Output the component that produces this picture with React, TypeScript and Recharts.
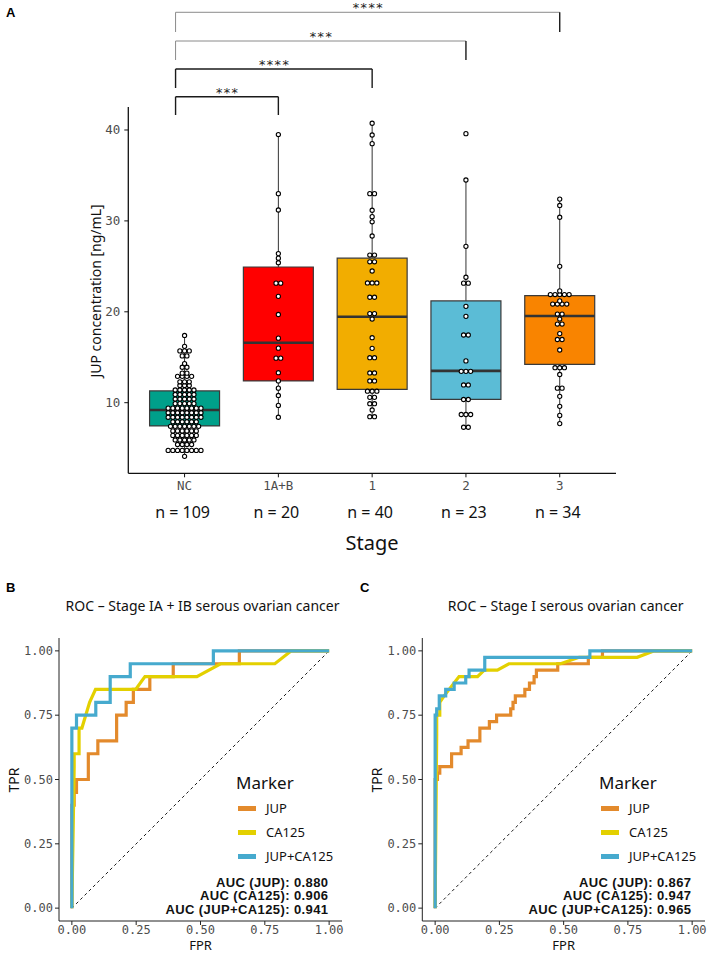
import React from "react";
import {
  ComposedChart,
  LineChart,
  Line,
  Scatter,
  XAxis,
  YAxis,
  ReferenceArea,
  ReferenceLine,
  Legend,
} from "recharts";

const SANS = "'Noto Sans', 'Open Sans', sans-serif";
const MONO = "'DejaVu Sans Mono', monospace";
const BOLD = "'Liberation Sans', Arial, sans-serif";

// ---- panel A: JUP concentration by stage ----
const stages = ["NC", "1A+B", "1", "2", "3"];
const stageN = [109, 20, 40, 23, 34];
const stageColors = ["#00A08A", "#FF0000", "#F2AD00", "#5BBCD6", "#F98400"];
const boxQ1 = [7.44, 12.39, 11.47, 10.37, 14.22];
const boxMedian = [9.2, 16.6, 19.46, 13.5, 19.54];
const boxQ3 = [11.3, 24.93, 25.9, 21.2, 21.77];
const whiskerLow = [4.1, 8.4, 8.46, 7.2, 7.7];
const whiskerHigh = [17.4, 39.5, 40.74, 34.5, 32.4];

const ncValues = [
  17.4, 16.2, 15.9, 15.6, 15.5, 15.3, 15.0, 14.3, 14.0, 13.8,
  13.3, 13.2, 13.1, 13.0, 12.9, 12.7, 12.4, 12.3, 12.2, 12.1,
  12.0, 11.7, 11.6, 11.5, 11.4, 11.3, 11.2, 11.1, 11.0, 10.9,
  10.8, 10.7, 10.6, 10.5, 10.4, 10.3, 10.2, 10.1, 10.0, 9.9,
  9.8, 9.7, 9.6, 9.5, 9.5, 9.4, 9.4, 9.3, 9.2, 9.2,
  9.1, 9.1, 9.0, 9.0, 8.9, 8.9, 8.8, 8.7, 8.6, 8.6,
  8.5, 8.5, 8.4, 8.3, 8.3, 8.2, 8.1, 8.0, 7.9, 7.9,
  7.8, 7.7, 7.6, 7.6, 7.5, 7.4, 7.4, 7.3, 7.2, 7.1,
  7.0, 6.9, 6.9, 6.8, 6.7, 6.6, 6.5, 6.5, 6.4, 6.3,
  6.2, 6.1, 6.0, 5.9, 5.8, 5.7, 5.6, 5.5, 5.3, 5.2,
  4.9, 4.9, 4.8, 4.8, 4.8, 4.7, 4.7, 4.6, 4.1,
];
const stageIABValues = [
  39.5, 33.0, 31.2, 26.4, 25.9, 25.4, 23.3, 23.0, 21.7, 19.7,
  17.1, 16.0, 15.0, 14.8, 13.3, 12.4, 11.6, 10.8, 9.7, 8.4,
];
const stage1Values = [
  40.74, 39.45, 38.5, 33.0, 33.0, 31.17, 30.47, 29.9, 28.34, 26.43,
  26.06, 25.5, 25.5, 24.49, 23.3, 23.05, 23.05, 21.6, 21.6, 19.8,
  19.8, 19.2, 17.15, 15.98, 14.95, 14.95, 13.27, 13.27, 12.39, 12.39,
  11.5, 11.5, 11.03, 10.74, 10.44, 10.08, 9.7, 9.2, 8.46, 8.46,
];
const stage2Values = [
  39.6, 34.5, 27.2, 23.8, 23.2, 23.1, 20.6, 19.5, 17.5, 17.4,
  14.6, 13.6, 13.5, 13.3, 12.1, 11.8, 10.4, 10.3, 8.9, 8.6,
  8.5, 7.4, 7.2,
];
const stage3Values = [
  32.4, 31.7, 30.4, 25.0, 22.3, 22.1, 22.0, 21.9, 21.8, 21.7,
  21.2, 21.0, 21.0, 20.8, 20.7, 19.8, 19.7, 19.2, 18.7, 18.6,
  17.6, 17.0, 16.9, 15.8, 13.9, 13.8, 13.8, 13.1, 11.7, 11.5,
  10.7, 9.6, 8.6, 7.7,
];
const groupValues = [ncValues, stageIABValues, stage1Values, stage2Values, stage3Values];

// significance brackets NC vs each stage
const bracketTo = [2, 3, 4, 5];
const bracketStars = ["***", "****", "***", "****"];
const bracketTop = [43.66, 46.71, 49.79, 52.95];
const bracketLeg = [41.65, 44.62, 47.7, 50.78];
const bracketColor = ["#1a1a1a", "#1a1a1a", "#8a8a8a", "#8a8a8a"];
const bracketStart = 0.904;

// ---- panels B, C: ROC curves ----
const rocTicks = [0, 0.25, 0.5, 0.75, 1];
const markers = ["JUP", "CA125", "JUP+CA125"];
const markerColors = ["#E38A2C", "#E3D000", "#46AACE"];

const rocB_JUP = [
  [0, 0], [0, 0.4], [0.009, 0.4], [0.009, 0.45], [0.018, 0.45], [0.018, 0.5],
  [0.064, 0.5], [0.064, 0.6], [0.101, 0.6], [0.101, 0.65], [0.174, 0.65],
  [0.174, 0.75], [0.211, 0.75], [0.211, 0.8], [0.239, 0.8], [0.239, 0.85],
  [0.303, 0.85], [0.303, 0.9], [0.394, 0.9], [0.394, 0.95], [0.651, 0.95],
  [0.651, 1], [1, 1],
];
const rocB_CA125 = [
  [0, 0], [0.009, 0.55], [0.009, 0.6], [0.028, 0.6], [0.028, 0.7], [0.039, 0.7],
  [0.069, 0.8], [0.092, 0.85], [0.248, 0.85], [0.284, 0.9], [0.486, 0.9],
  [0.578, 0.95], [0.789, 0.95], [0.853, 1], [1, 1],
];
const rocB_JUPCA125 = [
  [0, 0], [0, 0.7], [0.018, 0.7], [0.018, 0.75], [0.093, 0.75], [0.093, 0.8],
  [0.149, 0.8], [0.149, 0.9], [0.227, 0.9], [0.227, 0.95], [0.55, 0.95],
  [0.55, 1], [1, 1],
];
const rocC_JUP = [
  [0, 0], [0, 0.5], [0.009, 0.5], [0.009, 0.525], [0.018, 0.525], [0.018, 0.55],
  [0.064, 0.55], [0.064, 0.6], [0.101, 0.6], [0.101, 0.625], [0.128, 0.625],
  [0.128, 0.65], [0.174, 0.65], [0.174, 0.7], [0.211, 0.7], [0.211, 0.725],
  [0.239, 0.725], [0.239, 0.75], [0.294, 0.75], [0.294, 0.775], [0.303, 0.775],
  [0.303, 0.8], [0.312, 0.8], [0.312, 0.825], [0.349, 0.825], [0.349, 0.85],
  [0.367, 0.85], [0.367, 0.875], [0.385, 0.875], [0.385, 0.9], [0.394, 0.9],
  [0.394, 0.925], [0.477, 0.925], [0.477, 0.95], [0.596, 0.95], [0.596, 0.975],
  [0.651, 0.975], [0.651, 1], [1, 1],
];
const rocC_CA125 = [
  [0, 0], [0.006, 0.675], [0.006, 0.75], [0.018, 0.75], [0.018, 0.8],
  [0.035, 0.825], [0.093, 0.9], [0.165, 0.9], [0.191, 0.925], [0.242, 0.925],
  [0.287, 0.95], [0.488, 0.95], [0.56, 0.975], [0.786, 0.975], [0.853, 1], [1, 1],
];
const rocC_JUPCA125 = [
  [0, 0], [0, 0.75], [0.006, 0.75], [0.006, 0.775], [0.016, 0.775], [0.016, 0.825],
  [0.041, 0.825], [0.041, 0.85], [0.074, 0.85], [0.074, 0.875], [0.119, 0.875],
  [0.119, 0.9], [0.132, 0.9], [0.132, 0.925], [0.193, 0.925], [0.193, 0.975],
  [0.602, 0.975], [0.602, 1], [1, 1],
];
const aucB = [0.88, 0.906, 0.941];
const aucC = [0.867, 0.947, 0.965];

// geom_dotplot-like layout: dot-density bins along y, stacked centred in x
function dotLayout(values: number[], group: number, binwidth: number, step: number) {
  const sorted = [...values].sort((a, b) => a - b);
  const out: { x: number; y: number }[] = [];
  let i = 0;
  while (i < sorted.length) {
    let j = i;
    while (j < sorted.length && sorted[j] < sorted[i] + binwidth) j++;
    const bin = sorted.slice(i, j);
    const center = (bin[0] + bin[bin.length - 1]) / 2;
    bin.forEach((_, k) => out.push({ x: group + (k - (bin.length - 1) / 2) * step, y: center }));
    i = j;
  }
  return out;
}

const dots = groupValues.flatMap((vals, i) => dotLayout(vals, i + 1, 0.5, 0.05));

function StageTick(props: any) {
  const { x, y, payload } = props;
  const i = Math.round(payload.value) - 1;
  return (
    <g>
      <text x={x} y={y + 11} textAnchor="middle" fill="#4D4D4D" fontFamily={MONO} fontSize={12.5}>
        {stages[i]}
      </text>
      <text x={x - 2} y={y + 39} textAnchor="middle" fill="#111" fontFamily={SANS} fontSize={16}>
        {`n = ${stageN[i]}`}
      </text>
    </g>
  );
}

const Dot = (p: any) => <circle cx={p.cx} cy={p.cy} r={2.1} fill="#fff" stroke="#000" strokeWidth={1.1} />;

function PanelA() {
  return (
    <div style={{ position: "absolute", left: 0, top: 0 }}>
      <ComposedChart width={708} height={600} margin={{ top: 107, right: 92, bottom: 96.7, left: 88.3 }}>
        <XAxis
          type="number"
          dataKey="x"
          domain={[0.4, 5.6]}
          ticks={[1, 2, 3, 4, 5]}
          interval={0}
          allowDataOverflow
          height={30}
          tickSize={4}
          tickMargin={2}
          tick={<StageTick />}
          axisLine={{ stroke: "#111", strokeWidth: 1.3 }}
          tickLine={{ stroke: "#111" }}
        />
        <YAxis
          type="number"
          dataKey="y"
          domain={[2.233, 42.53]}
          ticks={[10, 20, 30, 40]}
          allowDataOverflow
          width={40}
          tickSize={4}
          tickMargin={4}
          tick={{ fill: "#4D4D4D", fontFamily: MONO, fontSize: 12.5 }}
          axisLine={{ stroke: "#111", strokeWidth: 1.3 }}
          tickLine={{ stroke: "#111" }}
        />
        {stages.map((s, i) => (
          <ReferenceLine
            key={`wh-${s}`}
            segment={[{ x: i + 1, y: boxQ3[i] }, { x: i + 1, y: whiskerHigh[i] }]}
            stroke="#333"
            strokeWidth={1}
          />
        ))}
        {stages.map((s, i) => (
          <ReferenceLine
            key={`wl-${s}`}
            segment={[{ x: i + 1, y: whiskerLow[i] }, { x: i + 1, y: boxQ1[i] }]}
            stroke="#333"
            strokeWidth={1}
          />
        ))}
        {stages.map((s, i) => (
          <ReferenceArea
            key={`box-${s}`}
            x1={i + 1 - 0.373}
            x2={i + 1 + 0.373}
            y1={boxQ1[i]}
            y2={boxQ3[i]}
            fill={stageColors[i]}
            fillOpacity={1}
            stroke="#3a3a3a"
            strokeWidth={1.2}
          />
        ))}
        {stages.map((s, i) => (
          <ReferenceLine
            key={`med-${s}`}
            segment={[{ x: i + 1 - 0.373, y: boxMedian[i] }, { x: i + 1 + 0.373, y: boxMedian[i] }]}
            stroke="#333"
            strokeWidth={2.6}
          />
        ))}
        <Scatter data={dots} shape={Dot} isAnimationActive={false} />
        {bracketTo.map((g, k) => (
          <ReferenceLine
            key={`bh-${k}`}
            segment={[{ x: bracketStart, y: bracketTop[k] }, { x: g, y: bracketTop[k] }]}
            stroke={bracketColor[k]}
            strokeWidth={k < 2 ? 1.4 : 1}
            ifOverflow="visible"
            label={{ value: bracketStars[k], position: "top", offset: 0, fill: "#222", fontSize: 13, fontFamily: MONO }}
          />
        ))}
        {bracketTo.map((g, k) => (
          <ReferenceLine
            key={`bl-${k}`}
            segment={[{ x: bracketStart, y: bracketLeg[k] }, { x: bracketStart, y: bracketTop[k] }]}
            stroke={bracketColor[k]}
            strokeWidth={k < 2 ? 1.4 : 1}
            ifOverflow="visible"
          />
        ))}
        {bracketTo.map((g, k) => (
          <ReferenceLine
            key={`br-${k}`}
            segment={[{ x: g, y: bracketLeg[k] }, { x: g, y: bracketTop[k] }]}
            stroke="#1a1a1a"
            strokeWidth={1.4}
            ifOverflow="visible"
          />
        ))}
      </ComposedChart>
      <div style={{ position: "absolute", left: 6, top: 5, fontFamily: BOLD, fontWeight: 700, fontSize: 13 }}>A</div>
      <div
        style={{
          position: "absolute",
          left: 95,
          top: 291,
          transform: "translate(-50%, -50%) rotate(-90deg)",
          whiteSpace: "nowrap",
          fontFamily: SANS,
          fontSize: 14,
          color: "#111",
        }}
      >
        JUP concentration [ng/mL]
      </div>
      <div
        style={{
          position: "absolute",
          left: 372,
          top: 542,
          transform: "translate(-50%, -50%)",
          fontFamily: SANS,
          fontSize: 20,
          color: "#111",
        }}
      >
        Stage
      </div>
    </div>
  );
}

const LegendBox = (p: any) => {
  const items = [...(p.payload || [])].sort(
    (a: any, b: any) => markers.indexOf(a.value) - markers.indexOf(b.value)
  );
  return (
    <div style={{ fontFamily: SANS, color: "#111" }}>
      <div style={{ fontSize: 17, height: 26, lineHeight: "26px" }}>Marker</div>
      {items.map((e: any) => (
        <div key={e.value} style={{ height: 24, display: "flex", alignItems: "center" }}>
          <div style={{ width: 18, height: 5, background: e.color, marginLeft: 2, marginRight: 10 }} />
          <span style={{ fontSize: 13 }}>{e.value}</span>
        </div>
      ))}
    </div>
  );
};

function RocPanel({
  left, letter, plotLeft, plotRight, title, curves, auc,
}: {
  left: number; letter: string; plotLeft: number; plotRight: number; title: string;
  curves: number[][][]; auc: number[];
}) {
  const center = (plotLeft + plotRight) / 2;
  return (
    <div style={{ position: "absolute", left, top: 590, width: 354, height: 363 }}>
      <LineChart width={354} height={363} margin={{ top: 48, right: 354 - plotRight, bottom: 12, left: plotLeft - 45 }}>
        <XAxis
          type="number"
          dataKey="fpr"
          domain={[-0.05, 1.05]}
          ticks={rocTicks}
          interval={0}
          allowDataOverflow
          height={20}
          tickSize={4}
          tickMargin={0}
          tickFormatter={(v: number) => v.toFixed(2)}
          tick={{ fill: "#4D4D4D", fontFamily: MONO, fontSize: 12 }}
          axisLine={{ stroke: "#222" }}
          tickLine={{ stroke: "#222" }}
        />
        <YAxis
          type="number"
          domain={[-0.05, 1.05]}
          ticks={rocTicks}
          interval={0}
          allowDataOverflow
          width={45}
          tickSize={4}
          tickMargin={2}
          tickFormatter={(v: number) => v.toFixed(2)}
          tick={{ fill: "#4D4D4D", fontFamily: MONO, fontSize: 12 }}
          axisLine={{ stroke: "#222" }}
          tickLine={{ stroke: "#222" }}
        />
        <ReferenceLine segment={[{ x: 0, y: 0 }, { x: 1, y: 1 }]} stroke="#000" strokeWidth={0.9} strokeDasharray="3 3" />
        {curves.map((pts, i) => (
          <Line
            key={markers[i]}
            name={markers[i]}
            data={pts.map(([f, t]) => ({ fpr: f, tpr: t }))}
            dataKey="tpr"
            type="linear"
            stroke={markerColors[i]}
            strokeWidth={3.2}
            dot={false}
            isAnimationActive={false}
          />
        ))}
        <Legend
          layout="vertical"
          align="center"
          verticalAlign="middle"
          content={LegendBox}
          wrapperStyle={{ left: plotRight - 106, top: 180, width: 120, height: 100 }}
        />
      </LineChart>
      <div style={{ position: "absolute", left: 6, top: -10, fontFamily: BOLD, fontWeight: 700, fontSize: 13 }}>{letter}</div>
      <div
        style={{
          position: "absolute",
          left: center + 2,
          top: 15,
          transform: "translate(-50%, -50%)",
          whiteSpace: "nowrap",
          fontFamily: SANS,
          fontSize: 14,
          color: "#111",
        }}
      >
        {title}
      </div>
      <div
        style={{
          position: "absolute",
          left: plotLeft - 46,
          top: 190,
          transform: "translate(-50%, -50%) rotate(-90deg)",
          fontFamily: SANS,
          fontSize: 14,
          color: "#111",
        }}
      >
        TPR
      </div>
      <div
        style={{
          position: "absolute",
          left: center,
          top: 355,
          transform: "translate(-50%, -50%)",
          fontFamily: SANS,
          fontSize: 13,
          lineHeight: "11px",
          color: "#111",
        }}
      >
        FPR
      </div>
      <div
        style={{
          position: "absolute",
          right: 354 - (plotRight - 13.5),
          top: 286,
          textAlign: "right",
          fontFamily: BOLD,
          fontWeight: 700,
          fontSize: 13,
          letterSpacing: 0.4,
          lineHeight: "13.4px",
          color: "#111",
          whiteSpace: "nowrap",
        }}
      >
        {markers.map((m, i) => (
          <div key={m}>{`AUC (${m}): ${auc[i].toFixed(3)}`}</div>
        ))}
      </div>
    </div>
  );
}

export default function App() {
  return (
    <div style={{ position: "absolute", left: 0, top: 0, width: 708, height: 953, background: "#fff", overflow: "hidden" }}>
      <PanelA />
      <RocPanel
        left={0}
        letter="B"
        plotLeft={59}
        plotRight={342}
        title="ROC – Stage IA + IB serous ovarian cancer"
        curves={[rocB_JUP, rocB_CA125, rocB_JUPCA125]}
        auc={aucB}
      />
      <RocPanel
        left={354}
        letter="C"
        plotLeft={68.3}
        plotRight={351}
        title="ROC – Stage I serous ovarian cancer"
        curves={[rocC_JUP, rocC_CA125, rocC_JUPCA125]}
        auc={aucC}
      />
    </div>
  );
}
